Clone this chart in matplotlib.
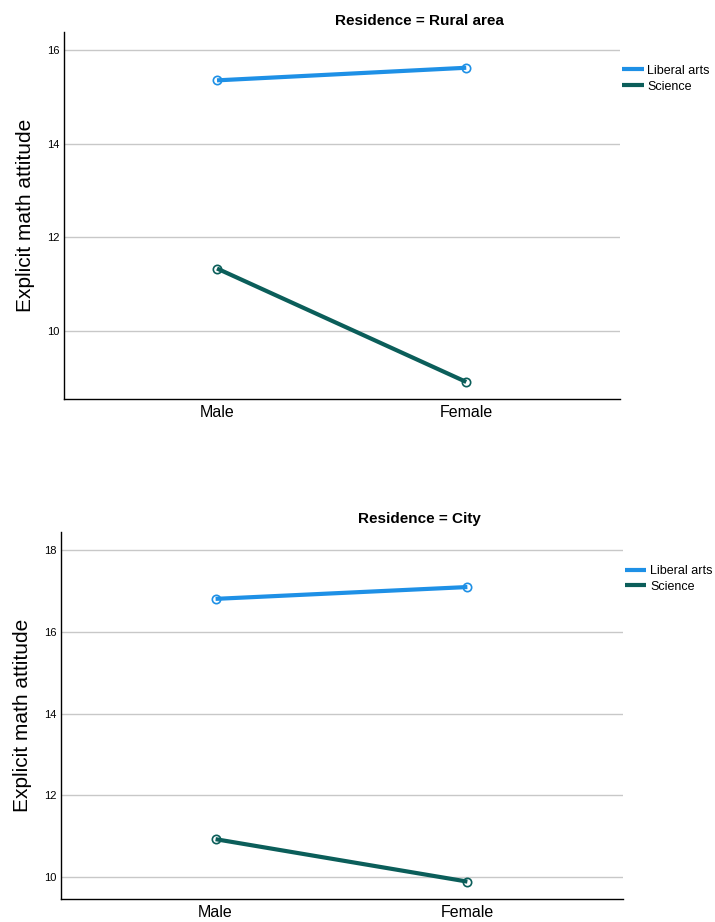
import numpy as np
import matplotlib
matplotlib.use('Agg')
import matplotlib.pyplot as plt

plt.rcParams['font.family'] = ['Liberation Sans', 'DejaVu Sans']

#Data
genders = ['Male', 'Female']
groups = ['Liberal arts', 'Science']
rural_liberal = [15.36, 15.63]
rural_science = [11.33, 8.90]
city_liberal = [16.81, 17.10]
city_science = [10.92, 9.88]
rural_ticks = [10, 12, 14, 16]
city_ticks = [10, 12, 14, 16, 18]

colors = {'Liberal arts': '#1e90e6', 'Science': '#0b5e5a'}

fig = plt.figure(figsize=(7.15, 9.22), dpi=100)

def panel(rect, title, liberal, science, ticks, ylim, title_y):
    ax = fig.add_axes(rect)
    x = np.arange(len(genders))
    for name, vals in zip(groups, [liberal, science]):
        ax.plot(x, vals, color=colors[name], lw=3, marker='o', ms=6,
                mfc='none', mec=colors[name], mew=1.2, label=name,
                solid_capstyle='butt', zorder=3)
    ax.set_xlim(-0.614, 1.618)
    ax.set_ylim(*ylim)
    ax.set_xticks(x)
    ax.set_xticklabels(genders, fontsize=11.5)
    ax.set_yticks(ticks)
    ax.set_yticklabels([str(t) for t in ticks], fontsize=8)
    ax.tick_params(length=0, pad=3)
    ax.tick_params(axis='x', pad=4)
    ax.grid(axis='y', color='#c8c8c8', lw=1)
    ax.set_axisbelow(True)
    for s in ['top', 'right']:
        ax.spines[s].set_visible(False)
    for s in ['left', 'bottom']:
        ax.spines[s].set_color('black')
        ax.spines[s].set_linewidth(1)
    ax.set_ylabel('Explicit math attitude', fontsize=15, labelpad=9)
    fig.text(0.587, title_y, title, ha='center', va='center',
             fontsize=11, fontweight='bold')
    leg = ax.legend(loc='upper left', bbox_to_anchor=(0.995, 0.925),
                    frameon=False, fontsize=9, handlelength=1.7,
                    handletextpad=0.3, labelspacing=0.3, borderaxespad=0)
    for h in leg.get_lines():
        h.set_marker('')
        h.set_linewidth(3)
    return ax

panel([0.0895, 0.567, 0.778, 0.398], 'Residence = Rural area',
      rural_liberal, rural_science, rural_ticks, (8.53, 16.39), 1 - 20.7 / 922)
panel([0.0853, 0.0246, 0.786, 0.398], 'Residence = City',
      city_liberal, city_science, city_ticks, (9.446, 18.44), 1 - 519 / 922)

plt.savefig('out.png', dpi=100)
